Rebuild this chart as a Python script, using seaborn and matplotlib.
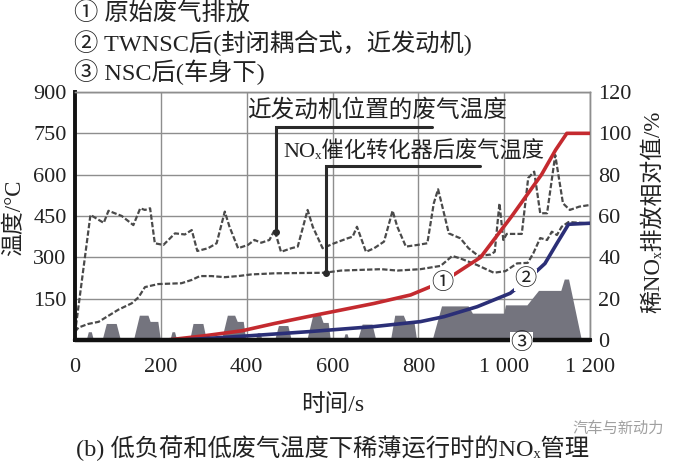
import matplotlib
matplotlib.use("Agg")
import matplotlib.pyplot as plt
import seaborn as sns

# ---------------- data ----------------
time_near = [0, 36, 67, 78, 109, 136, 152, 163, 175, 186, 206, 233, 256, 272, 285, 310, 330, 349, 360, 380,
             403, 418, 434, 453, 465, 480, 504, 519, 542, 554, 577, 604, 635, 647, 657, 678, 697, 720, 740, 751,
             771, 798, 821, 836, 846, 856, 871, 898, 917, 940, 968, 978, 989, 998, 1006, 1041, 1056, 1070, 1084, 1100,
             1119, 1137, 1153, 1175, 1200]
temp_near = [25, 454, 425, 469, 450, 417, 478, 472, 478, 351, 345, 387, 383, 399, 323, 333, 351, 466, 411, 333,
             345, 363, 353, 363, 399, 320, 333, 339, 472, 411, 333, 351, 369, 375, 411, 320, 333, 357, 469, 411,
             339, 345, 351, 496, 547, 484, 387, 369, 333, 305, 310, 320, 496, 363, 385, 385, 588, 611, 460, 460,
             671, 496, 472, 484, 490]

time_cat = [0, 8, 30, 55, 78, 101, 132, 148, 163, 194, 248, 272, 291, 318, 349, 380, 411, 465, 581, 620,
            713, 751, 805, 852, 879, 898, 937, 976, 1003, 1030, 1055, 1068, 1084, 1100, 1111, 1123, 1134, 1150, 1200]
temp_cat = [30, 45, 58, 66, 88, 110, 133, 155, 192, 203, 206, 218, 232, 232, 228, 232, 238, 242, 244, 252,
            257, 252, 257, 269, 305, 296, 272, 244, 250, 278, 280, 315, 370, 363, 393, 381, 411, 428, 423]

time_raw = [215, 300, 390, 465, 542, 620, 697, 782, 860, 945, 1018, 1087, 1120, 1146, 1200]
nox_raw = [0, 2, 4.5, 8, 11.3, 14.5, 17.7, 21.8, 28.5, 40, 60, 80, 92, 100, 100]

time_twnsc = [250, 403, 542, 697, 805, 860, 937, 1014, 1053, 1095, 1123, 1150, 1200]
nox_twnsc = [0, 2, 4, 6.5, 8.9, 11.3, 16.1, 22.6, 29, 37, 46.8, 56, 56.5]

time_nsc = [0, 1200]
nox_nsc = [0, 0]

profile_time = [0, 26, 31, 38, 43, 63, 73, 96, 106, 136, 150, 170, 175, 193, 199, 221, 226, 232, 237, 267,
                275, 298, 306, 341, 355, 372, 378, 392, 398, 420, 425, 431, 436, 465, 474, 496, 504, 540, 554, 572,
                578, 590, 595, 625, 629, 634, 638, 658, 669, 692, 701, 735, 745, 765, 772, 790, 796, 832, 854, 916,
                926, 999, 1003, 1053, 1080, 1132, 1140, 1150, 1180, 1200]
profile_pct = [0, 0, 4, 4, 0, 0, 8, 8, 0, 0, 12, 12, 9, 9, 0, 0, 4, 4, 0, 0,
               8, 8, 0, 0, 12, 12, 9, 9, 0, 0, 3.5, 3.5, 0, 0, 7, 7, 0, 0, 12, 12,
               8.5, 8.5, 0, 0, 3, 3, 0, 0, 7.7, 7.7, 0, 0, 12, 12, 8.5, 8.5, 0, 0, 16.5, 16.5,
               13, 13, 17, 17, 24, 24, 29.5, 29.5, 0, 0]

x_ticks = [0, 200, 400, 600, 800, 1000, 1200]
x_ticklabels = ["0", "200", "400", "600", "800", "1 000", "1 200"]
temp_ticks = [0, 150, 300, 450, 600, 750, 900]
temp_ticklabels = ["", "150", "300", "450", "600", "750", "900"]
pct_ticks = [0, 20, 40, 60, 80, 100, 120]
pct_ticklabels = ["0", "20", "40", "60", "80", "100", "120"]

legend_lines = ["① 原始废气排放", "② TWNSC后(封闭耦合式，近发动机)", "③ NSC后(车身下)"]
label_near = "近发动机位置的废气温度"
label_cat = "NOₓ催化转化器后废气温度"
xlabel = "时间/s"
ylabel_left = "温度/°C"
ylabel_right = "稀NOₓ排放相对值/%"
caption = "(b) 低负荷和低废气温度下稀薄运行时的NOₓ管理"
watermark = "汽车与新动力"

# ---------------- style ----------------
sns.set_style("white")
FAM = ["Liberation Serif", "Noto Sans CJK SC", "DejaVu Serif"]
plt.rcParams["font.family"] = FAM
plt.rcParams["axes.unicode_minus"] = False

W, H = 685, 467
fig = plt.figure(figsize=(W / 100, H / 100), dpi=100)
ax = fig.add_axes([75 / W, 127 / H, 515 / W, 248 / H])
ax2 = ax.twinx()

ax.set_xlim(0, 1200)
ax.set_ylim(0, 900)
ax2.set_ylim(0, 120)

grid_c = "#8e8e8e"
ax.set_xticks(x_ticks)
ax.set_xticklabels(x_ticklabels)
ax.set_yticks(temp_ticks)
ax.set_yticklabels(temp_ticklabels)
ax2.set_yticks(pct_ticks)
ax2.set_yticklabels(pct_ticklabels)
ax.grid(True, color=grid_c, lw=1.0)
ax2.grid(False)
ax.tick_params(length=0, labelsize=16, pad=6, colors="#222222")
ax.tick_params(axis="x", pad=13)
ax2.tick_params(length=0, labelsize=16, pad=6, colors="#222222")

for a in (ax, ax2):
    for s in ("top", "right"):
        a.spines[s].set_color(grid_c)
        a.spines[s].set_linewidth(1.0)
ax.spines["left"].set_color("#111111")
ax.spines["left"].set_linewidth(2.8)
ax.spines["bottom"].set_color("#111111")
ax.spines["bottom"].set_linewidth(2.8)
ax2.spines["left"].set_visible(False)
ax2.spines["bottom"].set_visible(False)

# ---------------- temperature curves ----------------
sns.lineplot(x=time_near, y=temp_near, ax=ax, color="#4a4a4a", lw=1.6, sort=False)
sns.lineplot(x=time_cat, y=temp_cat, ax=ax, color="#4a4a4a", lw=1.6, sort=False)
for ln in ax.lines:
    ln.set_dashes((2.4, 1.0))

# leader lines
lead_c = "#2a2a2a"
ax.plot([469, 469, 831], [393, 774, 774], color=lead_c, lw=2.2, solid_joinstyle="miter")
ax.plot([469], [393], "o", color=lead_c, ms=4)
ax.plot([585, 585, 944], [244, 632, 632], color=lead_c, lw=2.2, solid_joinstyle="miter")
ax.plot([585], [244], "o", color=lead_c, ms=4)
ax.text(400, 835, label_near, fontsize=17, va="center", ha="left", color="#222222")
ax.text(485, 683, label_cat, fontsize=16, va="center", ha="left", color="#222222")

# ---------------- NOx curves (right axis) ----------------
ax2.fill_between(profile_time, profile_pct, 0, color="#74747e", lw=0, zorder=1)
sns.lineplot(x=time_raw, y=nox_raw, ax=ax2, color="#c42a2f", lw=2.6, sort=False, zorder=3)
sns.lineplot(x=time_twnsc, y=nox_twnsc, ax=ax2, color="#2b2f77", lw=2.6, sort=False, zorder=3)
sns.lineplot(x=time_nsc, y=nox_nsc, ax=ax2, color="#111111", lw=3.2, sort=False, zorder=4)
for ln in ax2.lines[-1:]:
    ln.set_clip_on(False)

circ_kw = dict(fontsize=16, ha="center", va="center", color="#222222", zorder=6,
               bbox=dict(boxstyle="square,pad=0.02", fc="white", ec="none"))
ax2.text(855, 27.5, "①", **circ_kw)
ax2.text(1049, 29, "②", **circ_kw)
ax2.text(1041, -1.6, "③", clip_on=False, **circ_kw)

ax.set_xlabel("")
ax.set_ylabel("")
ax2.set_ylabel("")

# ---------------- figure texts ----------------
def fy(py):
    return 1 - py / H

for i, t in enumerate(legend_lines):
    fig.text(74 / W, fy(14 + 29 * i), t, fontsize=17.5, ha="left", va="center", color="#222222")

fig.text(15 / W, fy(218), ylabel_left, rotation=90, fontsize=16.5, ha="center", va="center", color="#222222")
fig.text(653 / W, fy(212), ylabel_right, rotation=90, fontsize=16.5, ha="center", va="center", color="#222222")
fig.text(333 / W, fy(405), xlabel, fontsize=17, ha="center", va="center", color="#222222")
fig.text(332 / W, fy(448), caption, fontsize=17.5, ha="center", va="center", color="#222222")
fig.text(618 / W, fy(428), watermark, fontsize=11, ha="center", va="center", color="#a0a0a0",
         family=["Noto Sans CJK SC", "DejaVu Sans"])

fig.savefig("out.png", dpi=100)
